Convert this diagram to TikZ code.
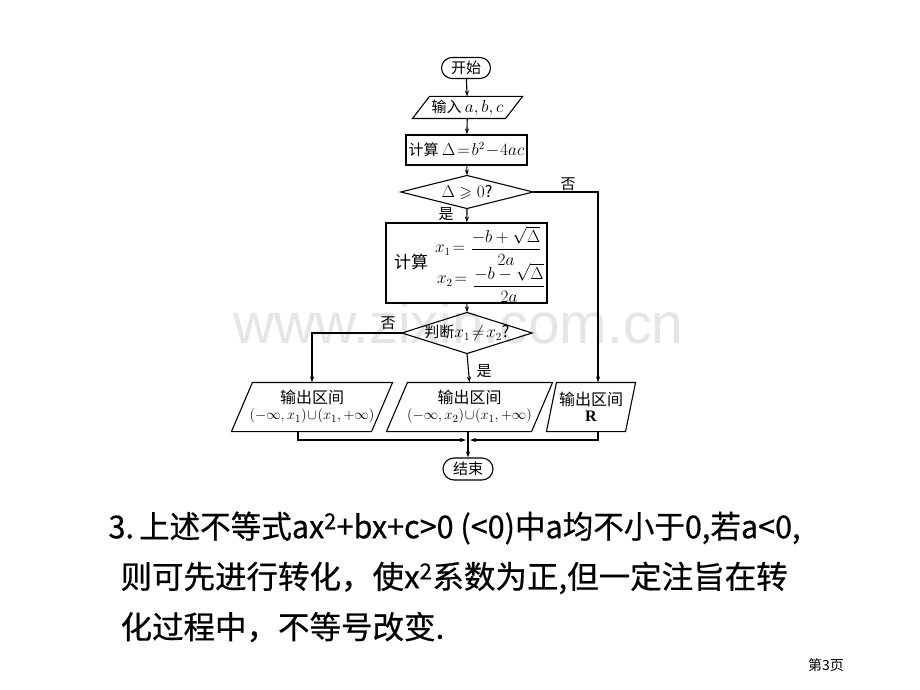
\documentclass[tikz,border=0pt]{standalone}
\usepackage{amsmath}
\usepackage{amssymb}
\usepackage{fontspec}
\setmainfont{Noto Sans CJK SC}
\newfontfamily\parafont{Noto Sans CJK SC}[FakeBold=0.6]
\newfontfamily\wmfont{Liberation Sans}
\newfontfamily\rmserif{Liberation Serif}
\usetikzlibrary{shapes.geometric,shapes.misc,arrows.meta}
\begin{document}
\begin{tikzpicture}[x=1pt,y=-1pt,line width=1.1pt,
  font=\fontsize{15}{18}\selectfont,
  arr/.style={-{Stealth[length=6pt,width=4pt]}},
  term/.style={draw,rounded rectangle,minimum width=49pt,minimum height=21pt,inner sep=0pt},
  proc/.style={draw,inner sep=0pt},
  box/.style={inner sep=0pt,align=center},
  lbl/.style={inner sep=0pt},
  mth/.style={inner sep=0pt,font=\fontsize{16}{18}\selectfont},
  para/.style={anchor=west,inner sep=0pt,font=\parafont\fontsize{31.5}{36}\selectfont}]
\useasboundingbox (0,0) rectangle (920,690);
% watermark
\node[anchor=base west,inner sep=0pt,text=black!10,font=\wmfont\fontsize{57}{60}\selectfont] (wm) at (233,343) {www.zixin.com.cn};
% flowchart nodes
\node[term] (start) at (466,68) {开始};
\node[box,minimum width=109pt,minimum height=21pt] (in) at (467.5,107.5) {输入 \fontsize{16}{18}\selectfont$a,b,c$};
\draw ([xshift=17pt]in.north west) -- (in.north east) -- ([xshift=-17pt]in.south east) -- (in.south west) -- cycle;
\node[proc,minimum width=121pt,minimum height=30pt] (calc) at (466.5,150) {计算 \fontsize{16}{18}\selectfont$\Delta\!=\!b^2\!-\!4ac$};
\node[box,minimum width=131pt,minimum height=32pt] (d1) at (467,192) {\fontsize{16}{18}\selectfont$\Delta\geqslant 0$?};
\draw (d1.west) -- (d1.north) -- (d1.east) -- (d1.south) -- cycle;
\node[proc,minimum width=161pt,minimum height=80pt] (calc2) at (466.5,263) {\phantom{计算}};
\node[lbl,font=\fontsize{17}{18}\selectfont] (jisuan) at (411,262) {计算};
\node[mth] (x1) at (450,250) {$x_1\!=$};
\node[mth] (f1) at (506,246) {$\dfrac{-b+\sqrt{\Delta}}{2a}$};
\node[mth] (x2) at (452,281) {$x_2\!=$};
\node[mth] (f2) at (509,283) {$\dfrac{-b-\sqrt{\Delta}}{2a}$};
\node[box,minimum width=129pt,minimum height=40pt] (d2) at (467,333) {判断\fontsize{16}{18}\selectfont$x_1\!\neq\! x_2$?};
\draw (d2.west) -- (d2.north) -- (d2.east) -- (d2.south) -- cycle;
\node[box,minimum width=160pt,minimum height=48pt] (o1) at (312,407) {\fontsize{16}{18}\selectfont 输出区间\\[-2pt]\fontsize{15}{18}\selectfont$(-\infty,x_1)\!\cup\!(x_1,+\infty)$};
\draw ([xshift=21pt]o1.north west) -- (o1.north east) -- ([xshift=-21pt]o1.south east) -- (o1.south west) -- cycle;
\node[box,minimum width=165pt,minimum height=48pt] (o2) at (469.5,407) {\fontsize{16}{18}\selectfont 输出区间\\[-2pt]\fontsize{15}{18}\selectfont$(-\infty,x_2)\!\cup\!(x_1,+\infty)$};
\draw ([xshift=21pt]o2.north west) -- (o2.north east) -- ([xshift=-21pt]o2.south east) -- (o2.south west) -- cycle;
\node[box,minimum width=88pt,minimum height=48pt] (o3) at (591,407) {\fontsize{16}{18}\selectfont 输出区间\\[-2pt]\fontsize{16}{18}\selectfont{\rmserif\bfseries R}};
\draw ([xshift=10pt]o3.north west) -- (o3.north east) -- ([xshift=-10pt]o3.south east) -- (o3.south west) -- cycle;
\node[term,minimum width=50pt,minimum height=22pt] (end) at (468,469) {结束};
% labels
\node[lbl] (no1) at (568,184) {否};
\node[lbl] (yes1) at (446,214) {是};
\node[lbl] (no2) at (388,323) {否};
\node[lbl] (yes2) at (484,371) {是};
% connectors
\draw[arr] (start) -- (in);
\draw[arr] (in) -- (calc);
\draw[arr] (calc) -- (d1.north);
\draw[arr] (d1.south) -- (calc2);
\coordinate (r) at (598,192);
\draw[arr] (d1.east) -- (r) -- (r |- o3.north);
\draw[arr] (calc2) -- (d2.north);
\draw[arr] (d2.west) -| (o1.north);
\draw[arr] (d2.south) -- (o2.north);
\coordinate (m) at (468,440);
\draw[arr] ([xshift=-14pt]o1.south) |- ([xshift=-2pt]m);
\draw[arr] (r |- o3.south) |- ([xshift=2pt]m);
\draw[arr] (o2.south -| m) -- (end.north);
% paragraph
\node[para,xscale=0.97,transform shape] (p1) at (108,528) {3.\,上述不等式ax\textsuperscript{2}+bx+c>0\ (<0)中a均不小于0,若a<0,};
\node[para] (p2) at (120,578) {则可先进行转化，使x\textsuperscript{2}系数为正,但一定注旨在转};
\node[para] (p3) at (120,627) {化过程中，不等号改变.};
\node[inner sep=0pt,font=\fontsize{14}{16}\selectfont] (pg) at (826,665) {第3页};
\end{tikzpicture}
\end{document}
